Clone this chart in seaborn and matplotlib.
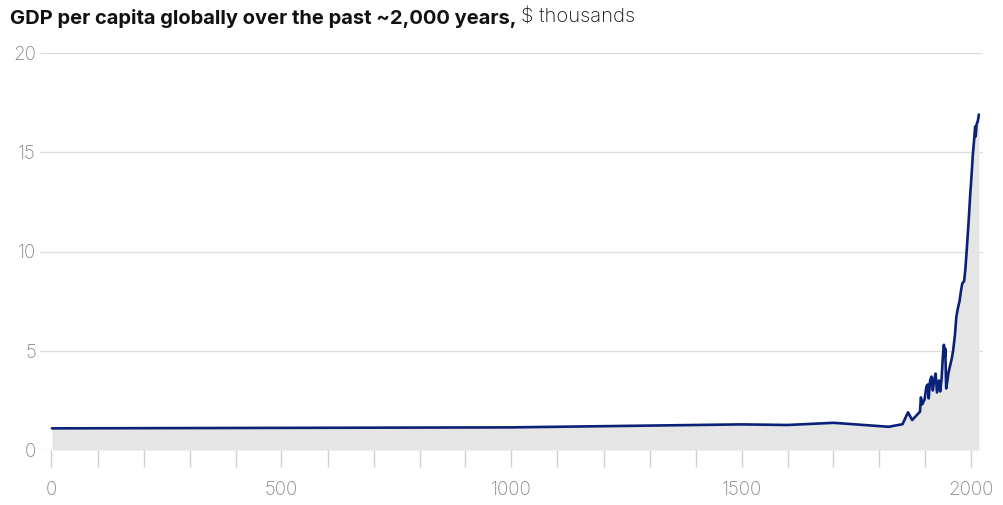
import matplotlib as mpl
mpl.use("Agg")
import matplotlib.pyplot as plt
import matplotlib.ticker as ticker
import seaborn as sns
import pandas as pd

# world GDP per capita, $ thousands
years = [1, 1000, 1500, 1600, 1700, 1820, 1850, 1862, 1871, 1888, 1890,
         1893, 1898, 1902, 1905, 1907, 1910, 1913, 1916, 1919, 1922, 1925,
         1929, 1932, 1935, 1938, 1940, 1942, 1943, 1945, 1947, 1950, 1953,
         1957, 1960, 1964, 1967, 1970, 1974, 1977, 1980, 1984, 1987, 1990,
         1994, 1997, 2000, 2003, 2006, 2008, 2009, 2011, 2014, 2016]
gdp = [1.09, 1.14, 1.29, 1.26, 1.37, 1.17, 1.30, 1.90, 1.51, 1.93, 2.65,
       2.30, 2.55, 3.20, 3.30, 2.60, 3.50, 3.70, 3.00, 3.55, 3.85, 2.90,
       3.50, 2.95, 3.60, 4.80, 5.30, 4.70, 5.10, 3.10, 3.40, 3.90, 4.20,
       4.60, 5.00, 5.80, 6.70, 7.10, 7.50, 8.00, 8.40, 8.50, 9.20, 10.20,
       11.60, 12.80, 13.80, 14.90, 15.70, 16.30, 15.80, 16.40, 16.60, 16.90]

x_ticks = [0, 500, 1000, 1500, 2000]
y_ticks = [0, 5, 10, 15, 20]
title_bold = "GDP per capita globally over the past ~2,000 years,"
title_rest = "$ thousands"

df = pd.DataFrame({"year": years, "gdp": gdp})

sns.set_style("white")
plt.rcParams["font.family"] = ["Inter", "DejaVu Sans"]

navy = "#0a2179"
tick_grey = "#868686"

fig = plt.figure(figsize=(10.04, 5.05), dpi=100)
ax = fig.add_axes([40 / 1004, 55 / 505, 943 / 1004, 397 / 505])

ax.fill_between(df["year"], 0, df["gdp"], color="#e5e5e5", lw=0, zorder=1)
sns.lineplot(data=df, x="year", y="gdp", ax=ax, color=navy, lw=1.9, zorder=3)

ax.set_xlim(-25, 2025)
ax.set_ylim(0, 20)
ax.xaxis.set_major_locator(ticker.FixedLocator(x_ticks))
ax.xaxis.set_minor_locator(ticker.MultipleLocator(100))
ax.yaxis.set_major_locator(ticker.FixedLocator(y_ticks))
ax.set_xlabel("")
ax.set_ylabel("")

for s in ax.spines.values():
    s.set_visible(False)

ax.grid(axis="y", color="#dedede", lw=1, zorder=0)
ax.grid(axis="x", visible=False)
ax.set_axisbelow(True)

ax.tick_params(axis="x", which="both", direction="out", length=12, width=1,
               color="#cfcfcf", bottom=True, labelsize=13.5,
               labelcolor=tick_grey, pad=10)
ax.tick_params(axis="y", length=0, labelsize=13.5, labelcolor=tick_grey, pad=3)
for lab in ax.get_xticklabels() + ax.get_yticklabels():
    lab.set_fontweight("light")

t1 = fig.text(10 / 1004, 1 - 18 / 505, title_bold, fontsize=14.5,
              fontweight="bold", color="#111111", va="center", ha="left")
fig.canvas.draw()
bb = t1.get_window_extent()
fig.text((bb.x1 + 5) / 1004, 1 - 18 / 505, title_rest, fontsize=14.5,
         fontweight="light", color="#111111", va="center", ha="left")

fig.savefig("out.png", dpi=100)
